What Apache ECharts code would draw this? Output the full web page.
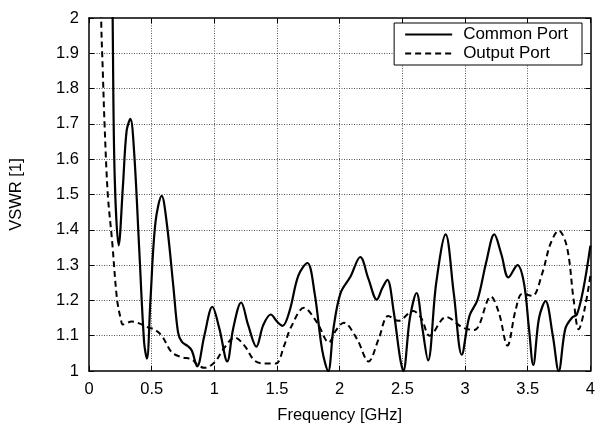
<!DOCTYPE html>
<html>
<head>
<meta charset="utf-8">
<script src="https://cdn.jsdelivr.net/npm/echarts@6/dist/echarts.min.js"></script>
<style>
html,body{margin:0;padding:0;background:#fff;}
#chart{width:598px;height:429px;}
</style>
</head>
<body>
<div id="chart"></div>
<script>
const xTickLabels = ['0','0.5','1','1.5','2','2.5','3','3.5','4'];
const yTickLabels = ['1','1.1','1.2','1.3','1.4','1.5','1.6','1.7','1.8','1.9','2'];
const seriesNames = ['Common Port','Output Port'];

const commonPort = [
  [0.178,2.5],[0.19,1.95],[0.205,1.55],[0.237,1.356],[0.27,1.52],[0.30,1.68],[0.33,1.714],
  [0.36,1.62],[0.40,1.35],[0.44,1.08],[0.462,1.035],[0.49,1.2],[0.53,1.42],[0.58,1.496],
  [0.62,1.42],[0.673,1.239],[0.71,1.11],[0.74,1.083],[0.79,1.07],[0.82,1.058],[0.863,1.013],
  [0.92,1.1],[0.984,1.182],[1.04,1.12],[1.103,1.027],[1.15,1.12],[1.214,1.194],[1.27,1.13],
  [1.335,1.069],[1.39,1.13],[1.45,1.16],[1.50,1.14],[1.544,1.128],[1.60,1.17],[1.67,1.27],
  [1.742,1.306],[1.80,1.22],[1.86,1.06],[1.908,1.0],[1.95,1.12],[2.006,1.22],[2.085,1.267],
  [2.164,1.323],[2.23,1.26],[2.296,1.202],[2.34,1.235],[2.38,1.258],[2.43,1.17],[2.48,1.04],
  [2.507,1.0],[2.56,1.15],[2.613,1.221],[2.66,1.12],[2.705,1.03],[2.77,1.25],[2.845,1.387],
  [2.91,1.22],[2.974,1.046],[3.035,1.156],[3.10,1.202],[3.17,1.31],[3.233,1.387],[3.29,1.33],
  [3.346,1.265],[3.418,1.30],[3.47,1.249],[3.51,1.12],[3.544,1.017],[3.59,1.15],[3.642,1.198],
  [3.70,1.1],[3.747,1.0],[3.80,1.12],[3.853,1.151],[3.892,1.16],[3.945,1.235],[4.0,1.355]
];

const outputPort = [
  [0.085,2.5],[0.097,2.0],[0.11,1.85],[0.124,1.70],[0.15,1.5],[0.184,1.37],[0.224,1.202],
  [0.255,1.145],[0.27,1.132],[0.34,1.14],[0.40,1.135],[0.475,1.123],[0.52,1.118],[0.58,1.10],
  [0.66,1.053],[0.739,1.039],[0.818,1.033],[0.871,1.016],[0.923,1.009],[1.003,1.025],
  [1.082,1.067],[1.161,1.095],[1.24,1.072],[1.319,1.03],[1.398,1.021],[1.49,1.021],
  [1.557,1.072],[1.61,1.123],[1.715,1.179],[1.82,1.137],[1.913,1.081],[1.97,1.115],
  [2.032,1.137],[2.137,1.091],[2.23,1.027],[2.31,1.09],[2.388,1.156],[2.467,1.142],
  [2.586,1.17],[2.65,1.15],[2.718,1.10],[2.85,1.153],[2.982,1.123],[3.074,1.116],
  [3.206,1.211],[3.27,1.165],[3.338,1.072],[3.404,1.174],[3.457,1.219],[3.536,1.213],
  [3.615,1.276],[3.681,1.36],[3.747,1.398],[3.813,1.351],[3.866,1.202],[3.906,1.118],
  [3.953,1.174],[4.0,1.27]
];

const FONT = 'Liberation Sans, Arial, sans-serif';
const chart = echarts.init(document.getElementById('chart'), null, {renderer:'canvas'});

const axisCommonX = {
  type:'value', min:0, max:4, interval:0.5, gridIndex:0
};
const axisCommonY = {
  type:'value', min:1, max:2, interval:0.1, gridIndex:0
};

chart.setOption({
  animation:false,
  backgroundColor:'#fff',
  grid:{left:87, right:6, top:18, bottom:53.5, containLabel:false},
  legend:{
    show:true,
    orient:'vertical', right:16, top:23,
    backgroundColor:'#fff', borderColor:'#000', borderWidth:1, borderRadius:0,
    padding:[3,14,3,10], itemWidth:47, itemHeight:16, itemGap:2,
    itemStyle:{opacity:0},
    textStyle:{fontFamily:FONT, fontSize:17, color:'#000', padding:[0,0,0,6]},
    data:seriesNames
  },
  xAxis:[
    Object.assign({}, axisCommonX, {
      position:'bottom',
      name:'Frequency [GHz]', nameLocation:'middle', nameGap:36,
      nameTextStyle:{fontFamily:FONT, fontSize:16.5, color:'#000'},
      axisLine:{show:true, onZero:false, lineStyle:{color:'#000', width:1.5}},
      axisTick:{show:true, inside:true, length:5, lineStyle:{color:'#000', width:1}},
      axisLabel:{show:true, margin:10, fontFamily:FONT, fontSize:16.5, color:'#000',
        formatter:(v,i)=>xTickLabels[i]},
      splitLine:{show:true, showMinLine:false, showMaxLine:false,
        lineStyle:{color:'#555', type:[1,1.5], width:1}}
    }),
    Object.assign({}, axisCommonX, {
      position:'top',
      axisLine:{show:true, onZero:false, lineStyle:{color:'#000', width:1.5}},
      axisTick:{show:true, inside:true, length:5, lineStyle:{color:'#000', width:1}},
      axisLabel:{show:false},
      splitLine:{show:false}
    })
  ],
  yAxis:[
    Object.assign({}, axisCommonY, {
      position:'left',
      name:'VSWR [1]', nameLocation:'middle', nameGap:64,
      nameTextStyle:{fontFamily:FONT, fontSize:16.5, color:'#000'},
      axisLine:{show:true, onZero:false, lineStyle:{color:'#000', width:1.5}},
      axisTick:{show:true, inside:true, length:5, lineStyle:{color:'#000', width:1}},
      axisLabel:{show:true, margin:10, fontFamily:FONT, fontSize:16.5, color:'#000',
        formatter:(v,i)=>yTickLabels[i]},
      splitLine:{show:true, showMinLine:false, showMaxLine:false,
        lineStyle:{color:'#555', type:[1,1.5], width:1}}
    }),
    Object.assign({}, axisCommonY, {
      position:'right',
      axisLine:{show:true, onZero:false, lineStyle:{color:'#000', width:1.5}},
      axisTick:{show:true, inside:true, length:5, lineStyle:{color:'#000', width:1}},
      axisLabel:{show:false},
      splitLine:{show:false}
    })
  ],
  series:[
    {
      name:seriesNames[0], type:'line', xAxisIndex:0, yAxisIndex:0,
      data:commonPort, showSymbol:false, symbol:'none', smooth:0.35, clip:true,
      lineStyle:{color:'#000', width:2.2, type:'solid'}, itemStyle:{color:'#000'}
    },
    {
      name:seriesNames[1], type:'line', xAxisIndex:0, yAxisIndex:0,
      data:outputPort, showSymbol:false, symbol:'none', smooth:0.35, clip:true,
      lineStyle:{color:'#000', width:2, type:[6,4]}, itemStyle:{color:'#000'}
    }
  ]
});
</script>
</body>
</html>
